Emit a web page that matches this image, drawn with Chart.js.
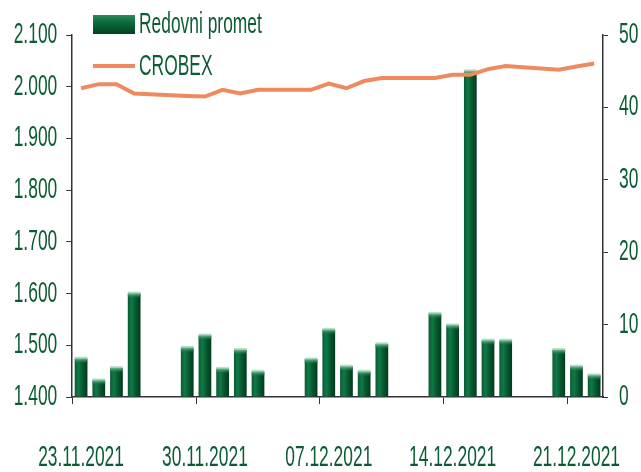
<!DOCTYPE html>
<html><head><meta charset="utf-8">
<script src="https://cdn.jsdelivr.net/npm/chart.js@4"></script>
<style>html,body{margin:0;padding:0;background:#fff;overflow:hidden}</style>
</head><body>
<canvas id="c" width="641" height="472"></canvas>
<script>
// ---- data ----
const categories = ['23.11.2021','24.11.2021','25.11.2021','26.11.2021','27.11.2021','28.11.2021','29.11.2021',
  '30.11.2021','01.12.2021','02.12.2021','03.12.2021','04.12.2021','05.12.2021','06.12.2021',
  '07.12.2021','08.12.2021','09.12.2021','10.12.2021','11.12.2021','12.12.2021','13.12.2021',
  '14.12.2021','15.12.2021','16.12.2021','17.12.2021','18.12.2021','19.12.2021','20.12.2021',
  '21.12.2021','22.12.2021'];
const shownDates = ['23.11.2021','30.11.2021','07.12.2021','14.12.2021','21.12.2021'];
const redovniPromet = [5.3, 2.3, 4.0, 14.3, null, null, 6.8,
  8.5, 3.9, 6.5, 3.5, null, null, 5.2,
  9.3, 4.2, 3.5, 7.3, null, null, 11.5,
  9.9, 45.0, 7.8, 7.8, null, null, 6.5,
  4.2, 3.0];
const crobex = [1997, 2005, 2005, 1987, null, null, 1982,
  1981, 1994, 1987, 1994, null, null, 1994,
  2006, 1997, 2011, 2017, null, null, 2017,
  2023, 2023, 2034, 2040, null, null, 2033,
  2039, 2045];
const seriesNames = ['Redovni promet', 'CROBEX'];
const leftTickLabels = ['1.400','1.500','1.600','1.700','1.800','1.900','2.000','2.100'];
const rightTickLabels = ['0','10','20','30','40','50'];

// ---- styling ----
const GREEN_TEXT = '#0c5c33';
const AXIS = '#333333';
const LINE_COLOR = '#ee8a5e';
const FONT = "'Liberation Sans', Arial, sans-serif";
const FSIZE = 29;
const SQUEEZE = 0.6;
const BAR_PCT = 0.72;

const canvas = document.getElementById('c');
const g2d = canvas.getContext('2d');
const nativeFill = g2d.fillText;
const nativeMeasure = g2d.measureText;
g2d.measureText = function (t) {
  const m = nativeMeasure.call(this, t);
  return {
    width: m.width * SQUEEZE,
    actualBoundingBoxAscent: m.actualBoundingBoxAscent,
    actualBoundingBoxDescent: m.actualBoundingBoxDescent,
    actualBoundingBoxLeft: m.actualBoundingBoxLeft * SQUEEZE,
    actualBoundingBoxRight: m.actualBoundingBoxRight * SQUEEZE,
    fontBoundingBoxAscent: m.fontBoundingBoxAscent,
    fontBoundingBoxDescent: m.fontBoundingBoxDescent
  };
};
g2d.fillText = function (t, x, y) {
  const w = nativeMeasure.call(this, t).width;
  return nativeFill.call(this, t, x, y, Math.max(0.5, w * SQUEEZE));
};

function barGradient(ctx, cx, w) {
  const g = ctx.createLinearGradient(cx - w / 2, 0, cx + w / 2, 0);
  g.addColorStop(0, '#0a5a31');
  g.addColorStop(0.3, '#0f7a46');
  g.addColorStop(0.62, '#07592f');
  g.addColorStop(1, '#013a1c');
  return g;
}

const legendPlugin = {
  id: 'insideLegend',
  afterDraw(chart) {
    const ctx = chart.ctx;
    ctx.save();
    const bx = 93, by = 15, bw = 42, bh = 19;
    const g = ctx.createLinearGradient(0, by, 0, by + bh);
    g.addColorStop(0, '#2f8a5a');
    g.addColorStop(0.35, '#0d6e3e');
    g.addColorStop(1, '#02401f');
    ctx.fillStyle = g;
    ctx.fillRect(bx, by, bw, bh);
    ctx.strokeStyle = LINE_COLOR;
    ctx.lineWidth = 4;
    ctx.beginPath();
    ctx.moveTo(bx, 66); ctx.lineTo(bx + bw, 66);
    ctx.stroke();
    ctx.fillStyle = GREEN_TEXT;
    ctx.font = FSIZE + 'px ' + FONT;
    ctx.textAlign = 'left';
    ctx.textBaseline = 'middle';
    ctx.fillText(seriesNames[0], 139, 25);
    ctx.fillText(seriesNames[1], 139, 67);
    ctx.restore();
  }
};

const barTopPlugin = {
  id: 'barTop',
  afterDatasetDraw(chart, args) {
    if (args.meta.type !== 'bar') return;
    const ctx = chart.ctx;
    ctx.save();
    args.meta.data.forEach((el, i) => {
      if (redovniPromet[i] == null) return;
      const w = el.width, x0 = el.x - w / 2, y0 = el.y;
      const g = ctx.createLinearGradient(0, y0 - 2, 0, y0 + 5);
      g.addColorStop(0, 'rgba(200,235,215,0.9)');
      g.addColorStop(0.45, 'rgba(90,170,125,0.8)');
      g.addColorStop(1, 'rgba(15,110,60,0)');
      ctx.fillStyle = g;
      ctx.fillRect(x0, y0 - 2, w, 7);
    });
    ctx.restore();
  }
};

new Chart(canvas, {
  data: {
    labels: categories,
    datasets: [
      {
        type: 'line',
        label: seriesNames[1],
        data: crobex,
        yAxisID: 'yL',
        borderColor: LINE_COLOR,
        backgroundColor: LINE_COLOR,
        borderWidth: 4,
        pointRadius: 0,
        tension: 0,
        spanGaps: true,
        order: 0
      },
      {
        type: 'bar',
        label: seriesNames[0],
        data: redovniPromet,
        yAxisID: 'yR',
        barPercentage: BAR_PCT,
        categoryPercentage: 1,
        backgroundColor: (c) => {
          const sx = c.chart.scales && c.chart.scales.x;
          if (!sx || c.dataIndex === undefined || !sx.width) return '#0b6a3b';
          const cx = sx.getPixelForValue(c.dataIndex);
          const w = sx.width / categories.length * BAR_PCT;
          return barGradient(c.chart.ctx, cx, w);
        },
        borderWidth: 0,
        order: 1
      }
    ]
  },
  options: {
    responsive: false,
    devicePixelRatio: 1,
    animation: false,
    layout: { padding: { top: 35, left: 0, right: 0, bottom: 0 } },
    plugins: { legend: { display: false }, tooltip: { enabled: false } },
    font: { family: FONT, size: FSIZE },
    scales: {
      x: {
        type: 'category',
        offset: true,
        afterFit(s) { s.height = 75; },
        grid: {
          display: true,
          offset: true,
          drawOnChartArea: false,
          drawTicks: true,
          tickLength: 7,
          tickWidth: 1,
          tickColor: (c) => (c.index !== undefined && c.index % 7 === 0) ? AXIS : 'rgba(0,0,0,0)',
          color: AXIS
        },
        border: { display: true, color: AXIS, width: 1.5 },
        ticks: {
          autoSkip: false,
          maxRotation: 0,
          minRotation: 0,
          padding: 37,
          color: GREEN_TEXT,
          font: { family: FONT, size: FSIZE },
          callback: (v, i) => shownDates.includes(categories[i]) ? categories[i] : ''
        }
      },
      yL: {
        type: 'linear',
        position: 'left',
        min: 1400,
        max: 2100,
        afterFit(s) { s.width = 71; },
        grid: { display: true, drawOnChartArea: false, drawTicks: true, tickLength: 6, color: AXIS },
        border: { display: true, color: AXIS, width: 1.5 },
        ticks: {
          stepSize: 100,
          padding: 9,
          color: GREEN_TEXT,
          font: { family: FONT, size: FSIZE },
          callback: (v) => leftTickLabels[Math.round((v - 1400) / 100)]
        }
      },
      yR: {
        type: 'linear',
        position: 'right',
        min: 0,
        max: 50,
        afterFit(s) { s.width = 38; },
        grid: { display: true, drawOnChartArea: false, drawTicks: true, tickLength: 5, color: AXIS },
        border: { display: true, color: AXIS, width: 1.5 },
        ticks: {
          stepSize: 10,
          padding: 11,
          color: GREEN_TEXT,
          font: { family: FONT, size: FSIZE },
          callback: (v) => rightTickLabels[Math.round(v / 10)]
        }
      }
    }
  },
  plugins: [barTopPlugin, legendPlugin]
});
</script>
</body></html>
